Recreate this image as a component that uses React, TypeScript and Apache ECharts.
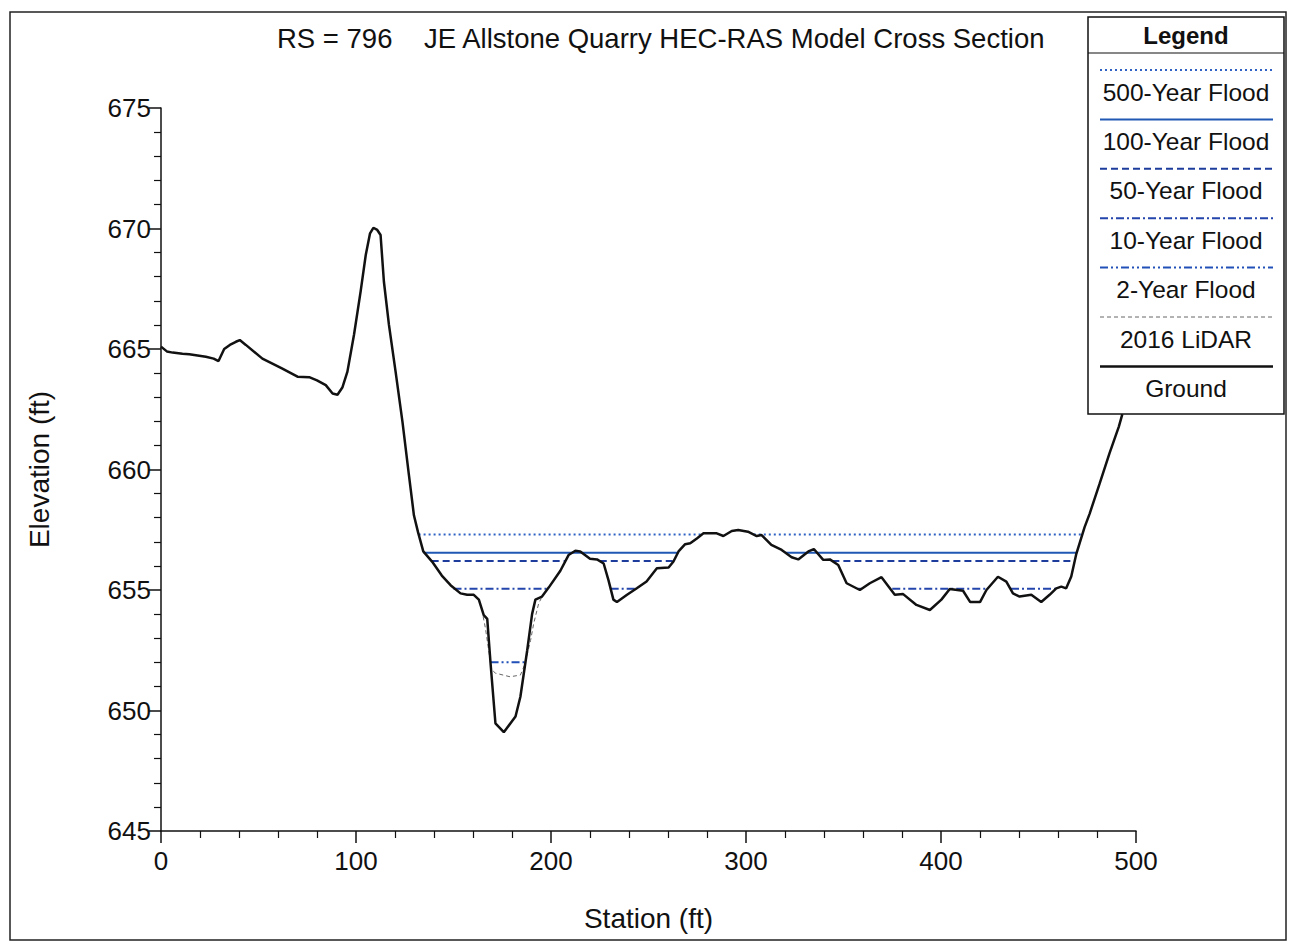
import React, { useEffect, useRef } from "react";
import * as echarts from "echarts";

// Ground profile (station ft, elevation ft)
const groundStation = [0, 3, 6, 11, 14.5, 23, 27, 29.5, 32.4, 35.3, 38.4, 40.4, 43.5, 52, 62, 70, 76, 80, 84.5, 88, 90.5, 93, 95.6, 99, 102.4, 105, 107.2, 108.9, 110.9, 112.6, 114.3, 116.9, 120.3, 123.8, 127.1, 129.7, 131.8, 134.5, 139, 144, 148.5, 153.6, 157, 160.4, 163, 165.5, 167.3, 169, 171.5, 175.8, 181.8, 184.3, 187.8, 190.3, 192, 195.4, 198.8, 204.8, 209, 212.5, 215, 220, 223.6, 227, 229.5, 232, 233.8, 239, 244, 249, 254.3, 260.3, 262.8, 265.4, 268.8, 271.4, 274.8, 278.2, 285, 288.4, 292.7, 296, 301, 305.5, 308, 313, 318.3, 323.4, 326.8, 332, 334.8, 339.6, 343, 347.3, 351.6, 358.4, 363.5, 369.5, 376.3, 380.6, 387.4, 394.3, 400.2, 404.5, 411.3, 415, 420, 423.3, 429.2, 433.5, 436.9, 440.3, 446.3, 451.4, 455.7, 459.1, 461.7, 464.2, 466.8, 469.4, 473.6, 476.2, 481.3, 486.4, 491.2, 493];
const groundElev = [665.1, 664.9, 664.85, 664.8, 664.78, 664.68, 664.6, 664.5, 665.0, 665.17, 665.3, 665.37, 665.17, 664.6, 664.2, 663.85, 663.83, 663.7, 663.5, 663.15, 663.1, 663.4, 664.06, 665.6, 667.4, 668.9, 669.8, 670.03, 669.94, 669.73, 667.8, 666.0, 664.06, 662.0, 659.8, 658.1, 657.4, 656.6, 656.18, 655.6, 655.2, 654.86, 654.8, 654.8, 654.6, 653.96, 653.8, 651.96, 649.47, 649.1, 649.75, 650.57, 652.5, 654.0, 654.6, 654.73, 655.1, 655.8, 656.45, 656.63, 656.6, 656.3, 656.27, 656.1, 655.4, 654.6, 654.5, 654.8, 655.07, 655.35, 655.9, 655.93, 656.18, 656.6, 656.9, 656.94, 657.14, 657.35, 657.35, 657.24, 657.45, 657.49, 657.42, 657.24, 657.28, 656.87, 656.66, 656.36, 656.27, 656.6, 656.7, 656.25, 656.27, 656.04, 655.28, 655.0, 655.28, 655.53, 654.8, 654.83, 654.38, 654.17, 654.6, 655.04, 654.97, 654.5, 654.5, 655.0, 655.55, 655.35, 654.86, 654.73, 654.8, 654.5, 654.8, 655.07, 655.14, 655.07, 655.56, 656.5, 657.6, 658.16, 659.4, 660.67, 661.78, 662.3];

// 2016 LiDAR where it departs from the ground line (channel)
const lidarStation = [165.2, 166.4, 169.5, 171.5, 179, 184.3, 186.5, 189.5, 191.1, 193.7, 195];
const lidarElev = [653.9, 653.4, 651.7, 651.55, 651.4, 651.47, 651.9, 652.9, 653.6, 654.45, 654.65];

// Water surface elevations and wetted segments [start, end] stations
const ws500 = 657.3;
const ws500Segments = [[132.1, 277.4], [304, 472.5]];
const ws100 = 656.55;
const ws100Segments = [[134.7, 265.1], [320.2, 469.3]];
const ws50 = 656.2;
const ws50Segments = [[138.8, 207.4], [225, 262.9], [344.3, 468.6]];
const ws10 = 655.05;
const ws10Segments = [[150, 198.3], [230.6, 243.6], [357.3, 359.3], [375, 423.5], [435.9, 458.8]];
const ws2 = 652.0;
const ws2Segments = [[169, 186.9]];

const legendLabels = ["500-Year Flood", "100-Year Flood", "50-Year Flood", "10-Year Flood", "2-Year Flood", "2016 LiDAR", "Ground"];

const FONT = "'Liberation Sans', Arial, Helvetica, sans-serif";

const STYLE_500 = { color: "#2f62c4", width: 2, type: [2, 3] as number[] };
const STYLE_100 = { color: "#2158b4", width: 2, type: "solid" as any };
const STYLE_50 = { color: "#1d3c9c", width: 2, type: [7, 4] as number[] };
const STYLE_10 = { color: "#2446ac", width: 2, type: [8, 3, 2, 3] as number[] };
const STYLE_2 = { color: "#2150b8", width: 2, type: [8, 3, 2, 3, 2, 3] as number[] };
const STYLE_LIDAR = { color: "#666666", width: 1, type: [4, 3] as number[] };
const STYLE_GROUND = { color: "#111111", width: 2.5, type: "solid" as any };
const legendStyles = [STYLE_500, STYLE_100, STYLE_50, STYLE_10, STYLE_2, STYLE_LIDAR, STYLE_GROUND];

function wsSeries(name: string, level: number, segs: number[][], st: any) {
  return segs.map((s) => ({
    name,
    type: "line",
    data: [[s[0], level], [s[1], level]],
    symbol: "none",
    silent: true,
    z: 3,
    lineStyle: { color: st.color, width: st.width, type: st.type },
  }));
}

export default function App() {
  const ref = useRef<HTMLDivElement>(null);
  useEffect(() => {
    if (!ref.current) return;
    const chart = echarts.init(ref.current, null, { renderer: "svg" });

    const legendX = 1088, legendY = 17, legendW = 196, legendH = 397;
    const legendEls: any[] = [
      { type: "rect", shape: { x: legendX, y: legendY, width: legendW, height: legendH }, style: { fill: "#fff", stroke: "#111", lineWidth: 1.5 }, z: 100 },
      { type: "text", x: legendX + legendW / 2, y: 35, style: { text: "Legend", font: `bold 24px ${FONT}`, fill: "#111", align: "center", verticalAlign: "middle" }, z: 101 },
      { type: "line", shape: { x1: legendX, y1: 53, x2: legendX + legendW, y2: 53 }, style: { stroke: "#111", lineWidth: 1.2 }, z: 101 },
    ];
    legendLabels.forEach((lab, i) => {
      const st = legendStyles[i];
      const ly = 70 + 49.4 * i;
      legendEls.push({
        type: "line",
        shape: { x1: 1100, y1: ly, x2: 1273, y2: ly },
        style: { stroke: st.color, lineWidth: st.width, lineDash: Array.isArray(st.type) ? st.type : null },
        z: 101,
      });
      legendEls.push({
        type: "text",
        x: legendX + legendW / 2,
        y: ly + 22,
        style: { text: lab, font: `24.5px ${FONT}`, fill: "#111", align: "center", verticalAlign: "middle" },
        z: 101,
      });
    });

    const option: any = {
      animation: false,
      backgroundColor: "#ffffff",
      grid: { left: 161, top: 108, width: 975, height: 723, containLabel: false },
      xAxis: {
        type: "value",
        min: 0,
        max: 500,
        interval: 100,
        name: "Station (ft)",
        nameLocation: "middle",
        nameGap: 73,
        nameTextStyle: { fontFamily: FONT, fontSize: 28, color: "#111" },
        axisLine: { show: true, onZero: false, lineStyle: { color: "#111", width: 1.5 } },
        axisTick: { show: true, inside: false, length: 12, lineStyle: { color: "#111", width: 1.5 } },
        minorTick: { show: true, splitNumber: 5, length: 7, lineStyle: { color: "#111", width: 1.2 } },
        axisLabel: { fontFamily: FONT, fontSize: 26, color: "#111", margin: 17 },
        splitLine: { show: false },
        minorSplitLine: { show: false },
      },
      yAxis: {
        type: "value",
        min: 645,
        max: 675,
        interval: 5,
        name: "Elevation (ft)",
        nameLocation: "middle",
        nameGap: 108,
        nameRotate: 90,
        nameTextStyle: { fontFamily: FONT, fontSize: 28, color: "#111" },
        axisLine: { show: true, onZero: false, lineStyle: { color: "#111", width: 1.5 } },
        axisTick: { show: true, inside: false, length: 12, lineStyle: { color: "#111", width: 1.5 } },
        minorTick: { show: true, splitNumber: 5, length: 7, lineStyle: { color: "#111", width: 1.2 } },
        axisLabel: { fontFamily: FONT, fontSize: 26, color: "#111", margin: 10 },
        splitLine: { show: false },
        minorSplitLine: { show: false },
      },
      graphic: [
        { type: "rect", shape: { x: 10, y: 12, width: 1276, height: 928 }, style: { fill: "none", stroke: "#222", lineWidth: 1.5 }, z: 0 },
        { type: "text", x: 277, y: 38, style: { text: "RS = 796", font: `27.5px ${FONT}`, fill: "#111", verticalAlign: "middle" }, z: 10 },
        { type: "text", x: 424, y: 38, style: { text: "JE Allstone Quarry HEC-RAS Model Cross Section", font: `27.5px ${FONT}`, fill: "#111", verticalAlign: "middle" }, z: 10 },
        ...legendEls,
      ],
      series: [
        ...wsSeries("500-Year Flood", ws500, ws500Segments, STYLE_500),
        ...wsSeries("100-Year Flood", ws100, ws100Segments, STYLE_100),
        ...wsSeries("50-Year Flood", ws50, ws50Segments, STYLE_50),
        ...wsSeries("10-Year Flood", ws10, ws10Segments, STYLE_10),
        ...wsSeries("2-Year Flood", ws2, ws2Segments, STYLE_2),
        {
          name: "2016 LiDAR",
          type: "line",
          data: lidarStation.map((s, i) => [s, lidarElev[i]]),
          symbol: "none",
          silent: true,
          z: 4,
          lineStyle: { color: STYLE_LIDAR.color, width: STYLE_LIDAR.width, type: STYLE_LIDAR.type },
        },
        {
          name: "Ground",
          type: "line",
          data: groundStation.map((s, i) => [s, groundElev[i]]),
          symbol: "none",
          silent: true,
          z: 5,
          lineStyle: { color: STYLE_GROUND.color, width: STYLE_GROUND.width },
        },
      ],
    };
    chart.setOption(option);
    return () => chart.dispose();
  }, []);

  return (
    <div
      ref={ref}
      style={{ position: "absolute", left: 0, top: 0, width: 1290, height: 947, background: "#fff" }}
    />
  );
}
